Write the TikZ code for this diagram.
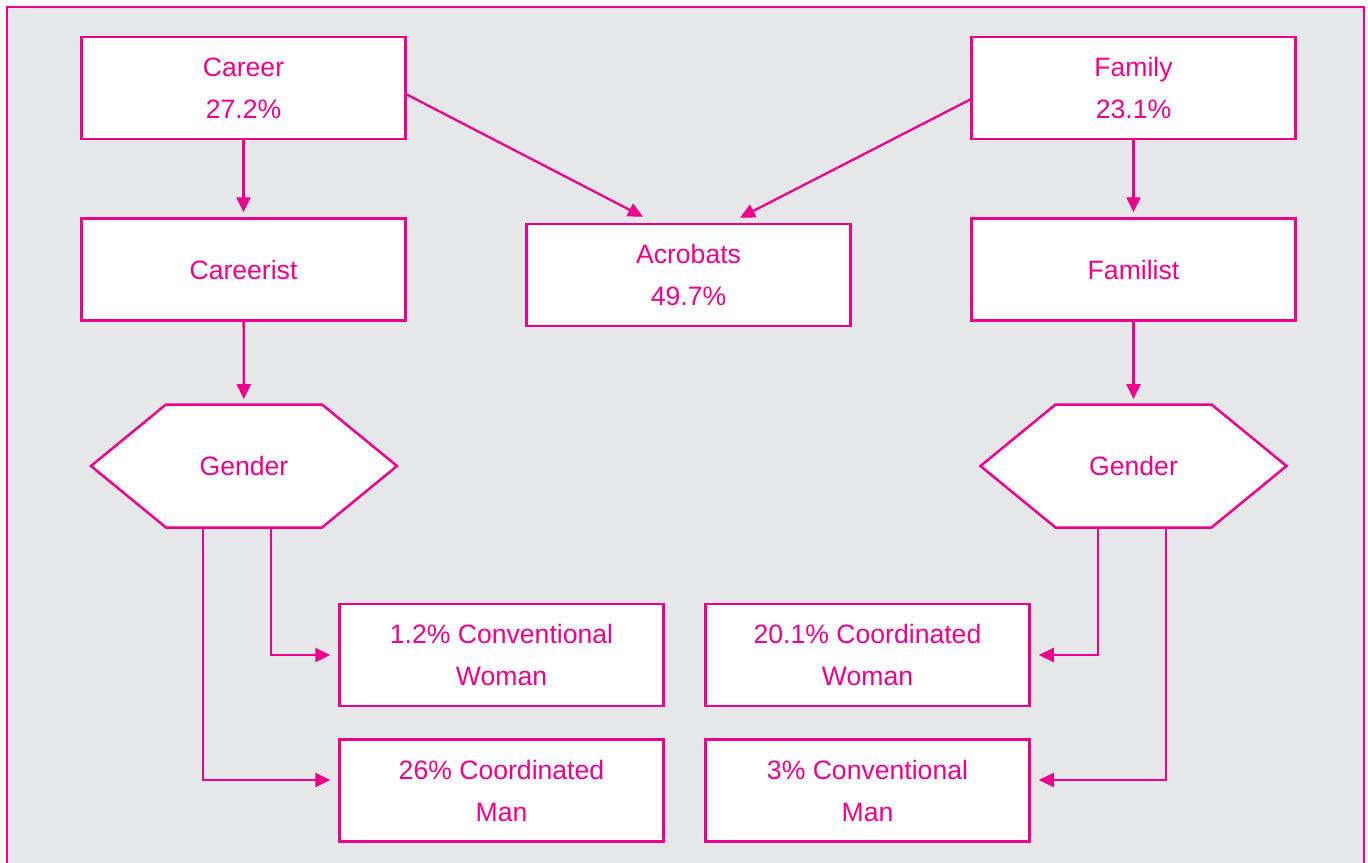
\documentclass[tikz,border=0pt]{standalone}
\usepackage{fontspec}
\setmainfont{Liberation Sans}
\usetikzlibrary{arrows.meta,calc}
\definecolor{fucsia}{HTML}{EC008C}
\definecolor{grigio}{HTML}{E6E7E9}
\begin{document}
\begin{tikzpicture}[
    x=0.5pt,y=-0.5pt,
    cornice/.style={draw=fucsia,fill=grigio,line width=1.3pt},
    casella/.style={draw=fucsia,fill=white,line width=1.25pt,minimum width=162pt,
      minimum height=51pt,inner sep=0pt,align=center,text=fucsia,
      font=\fontsize{13.3}{21}\selectfont},
    esagono/.style={draw=fucsia,fill=white,line width=1.25pt},
    bivio/.style={minimum width=153pt,minimum height=61.5pt,inner sep=0pt,
      text=fucsia,font=\fontsize{13.3}{21}\selectfont},
    freccia/.style={draw=fucsia,line width=1.15pt,-{Triangle[length=7.5pt,width=7pt]}}]

  % ---- cornice ---------------------------------------------------------
  \useasboundingbox (0,0) rectangle (1368,862);
  \draw[cornice] (7,7) rectangle (1364,890);

  % ---- esagoni (sotto il testo) ----------------------------------------
  \coordinate (gsx0) at ( 244,466);
  \coordinate (gdx0) at (1133.5,466);
  \foreach \g in {gsx0,gdx0}
    \draw[esagono] ($(\g)+(-153,0)$) -- ($(\g)+(-78,-61.5)$) -- ($(\g)+(78,-61.5)$)
      -- ($(\g)+(153,0)$) -- ($(\g)+(78,61.5)$) -- ($(\g)+(-78,61.5)$) -- cycle;

  % ---- nodi ------------------------------------------------------------
  \node[casella] (car)  at ( 243.5, 88) {Career\\27.2\%};
  \node[casella] (fam)  at (1133.5, 88) {Family\\23.1\%};
  \node[casella] (cist) at ( 243.5,269.5) {Careerist};
  \node[casella] (acro) at ( 688.5,275) {Acrobats\\49.7\%};
  \node[casella] (fist) at (1133.5,269.5) {Familist};

  \node[bivio] (gsx) at (gsx0) {Gender};
  \node[bivio] (gdx) at (gdx0) {Gender};

  \node[casella] (donnacv) at ( 501.5,655) {1.2\% Conventional\\Woman};
  \node[casella] (uomocd)  at ( 501.5,790.5) {26\% Coordinated\\Man};
  \node[casella] (donnacd) at ( 867.5,655) {20.1\% Coordinated\\Woman};
  \node[casella] (uomocv)  at ( 867.5,790.5) {3\% Conventional\\Man};

  % ---- frecce verticali ------------------------------------------------
  \draw[freccia,shorten >=2.5pt] (car)  -- (cist);
  \draw[freccia,shorten >=2.5pt] (cist) -- (gsx);
  \draw[freccia,shorten >=2.5pt] (fam)  -- (fist);
  \draw[freccia,shorten >=2.5pt] (fist) -- (gdx);

  % ---- frecce oblique verso gli acrobati -------------------------------
  \draw[freccia] ($(car.east)+(0,6.5)$)   -- ($(acro.north)+(-45.5,-6)$);
  \draw[freccia] ($(fam.west)+(0,11.5)$)  -- ($(acro.north)+(51.5,-5)$);

  % ---- rami del genere -------------------------------------------------
  \draw[freccia,shorten >=4pt] ($(gsx.south)+(27,0)$)    |- (donnacv.west);
  \draw[freccia,shorten >=4pt] ($(gsx.south)+(-41,0)$)   |- ($(uomocd.west)+(0,-10.5)$);
  \draw[freccia,shorten >=4pt] ($(gdx.south)+(-35.5,0)$) |- (donnacd.east);
  \draw[freccia,shorten >=4pt] ($(gdx.south)+(32.5,0)$)  |- ($(uomocv.east)+(0,-10.5)$);

\end{tikzpicture}
\end{document}
